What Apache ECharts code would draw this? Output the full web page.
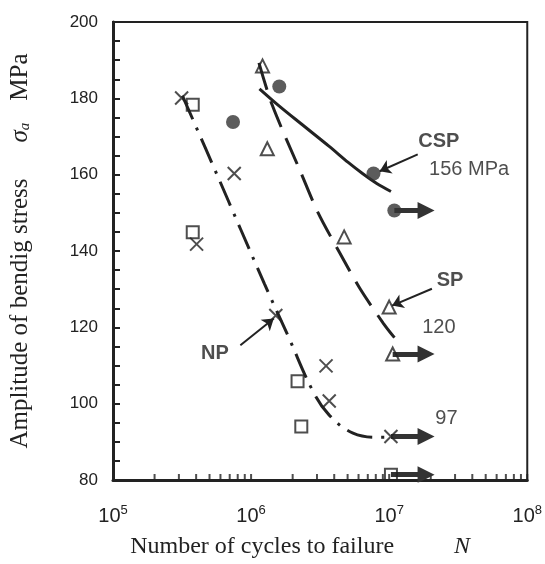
<!DOCTYPE html>
<html>
<head>
<meta charset="utf-8">
<script src="https://cdn.jsdelivr.net/npm/echarts@6/dist/echarts.min.js"></script>
<style>html,body{margin:0;padding:0;background:#fff}#c{width:545px;height:564px}</style>
</head>
<body>
<div id="c"></div>
<script>
// ---- data (N cycles, stress MPa) ----
const npCrossN = [3.14e5, 7.55e5, 4.03e5, 1.51e6, 3.49e6, 3.68e6, 1.03e7];
const npCrossS = [180.1, 160.3, 141.8, 123.1, 109.9, 100.7, 91.4];
const npSquareN = [3.78e5, 3.78e5, 2.17e6, 2.31e6, 1.03e7];
const npSquareS = [178.3, 144.9, 105.9, 94.0, 81.4];
const cspN = [7.4e5, 1.6e6, 7.7e6, 1.09e7];
const cspS = [173.8, 183.1, 160.3, 150.6];
const spN = [1.21e6, 1.31e6, 4.72e6, 1.0e7, 1.06e7];
const spS = [188.5, 166.8, 143.7, 125.3, 113.0];

// fitted curves
const cspCurveN = [1.15e6, 1.585e6, 2.29e6, 3.68e6, 5.05e6, 6.41e6, 8.13e6, 1.03e7];
const cspCurveS = [182.5, 178.1, 173.4, 167.4, 163.2, 160.3, 157.7, 155.6];
const spCurveN = [1.14e6, 1.42e6, 2.29e6, 3.04e6, 4.31e6, 6.11e6, 9.1e6, 1.12e7];
const spCurveS = [189.3, 178.3, 160.6, 150.2, 140.0, 130.3, 121.0, 116.8];
const npCurveN = [3.18e5, 5.65e5, 8.4e5, 1.25e6, 1.86e6, 2.81e6, 3.68e6, 5.47e6, 8.53e6, 1.03e7];
const npCurveS = [180.7, 160.1, 145.7, 131.4, 117.6, 103.2, 97.0, 92.3, 91.2, 91.2];

// run-out arrows
const runStartN = [1.09e7, 1.06e7, 1.03e7, 1.03e7];
const runEndN = [1.85e7, 1.85e7, 1.85e7, 1.85e7];
const runS = [150.6, 113.0, 91.4, 81.4];

// annotations
const annText = ['CSP', '156 MPa', 'SP', '120', '97', 'NP'];
const annBold = [true, false, true, false, false, true];
const annN = [2.29e7, 3.79e7, 2.76e7, 2.29e7, 2.6e7, 5.47e5];
const annS = [168.7, 161.4, 132.2, 119.9, 96.2, 113.1];
const pointerFromN = [1.61e7, 2.04e7, 8.36e5];
const pointerFromS = [165.3, 130.1, 115.3];
const pointerToN = [8.53e6, 1.05e7, 1.46e6];
const pointerToS = [160.9, 125.7, 122.3];

// axis
const yTicks = [80, 100, 120, 140, 160, 180, 200];
const xDecades = [5, 6, 7, 8];

const zip = (a, b) => a.map((v, i) => [v, b[i]]);
const tickPos = [];
for (let d = xDecades[0]; d < xDecades[xDecades.length - 1]; d++) {
  for (let k = 2; k <= 10; k++) tickPos.push([k * Math.pow(10, d), yTicks[0]]);
}

const ink = '#222';
const hollow = { color: 'rgba(0,0,0,0)', borderColor: ink, borderWidth: 2 };

const chart = echarts.init(document.getElementById('c'));
chart.setOption({
  animation: false,
  backgroundColor: '#fff',
  grid: { left: 103, right: 5, top: 22, bottom: 82, show: true, borderColor: ink, borderWidth: 2, backgroundColor: 'rgba(0,0,0,0)' },
  xAxis: {
    type: 'log', logBase: 10, min: 1e5, max: 1e8, splitNumber: 3,
    axisLine: { lineStyle: { color: ink, width: 3 } },
    axisTick: { show: false },
    splitLine: { show: false },
    axisLabel: {
      margin: 24,
      formatter: v => '{b|10}{s|' + Math.round(Math.log10(v)) + '}',
      rich: {
        b: { fontFamily: 'Liberation Sans', fontSize: 20, color: ink, lineHeight: 24 },
        s: { fontFamily: 'Liberation Sans', fontSize: 13, color: ink, verticalAlign: 'top', lineHeight: 24 }
      }
    },
    name: '{t|Number of cycles to failure}{n|N}',
    nameLocation: 'middle', nameGap: 55,
    nameTextStyle: {
      padding: [0, 40, 0, 0],
      rich: {
        t: { fontFamily: 'Liberation Serif', fontSize: 24, color: ink },
        n: { fontFamily: 'Liberation Serif', fontSize: 24, fontStyle: 'italic', color: ink, padding: [0, 0, 0, 60] }
      }
    }
  },
  yAxis: {
    type: 'value', min: 80, max: 200, interval: 20,
    axisLine: { lineStyle: { color: ink, width: 3 } },
    axisTick: { inside: true, length: 7, lineStyle: { color: ink, width: 2 } },
    minorTick: { show: true, splitNumber: 4, length: 7, lineStyle: { color: ink, width: 2 } },
    splitLine: { show: false },
    axisLabel: { margin: 15, fontFamily: 'Liberation Sans', fontSize: 17, color: ink },
    name: '{t|Amplitude of bendig stress}{i|σ}{s|a}{t|MPa}',
    nameLocation: 'middle', nameGap: 80, nameRotate: 90,
    nameTextStyle: {
      padding: [0, 0, 0, 0],
      rich: {
        t: { fontFamily: 'Liberation Serif', fontSize: 25, color: ink },
        i: { fontFamily: 'Liberation Serif', fontSize: 25, fontStyle: 'italic', color: ink, padding: [0, 0, 0, 36] },
        s: { fontFamily: 'Liberation Serif', fontSize: 15, fontStyle: 'italic', color: ink, verticalAlign: 'bottom', padding: [0, 22, 0, 0] }
      }
    }
  },
  series: [
    { type: 'scatter', data: tickPos, symbol: 'rect', symbolSize: [2, 6], symbolOffset: [0, -3], itemStyle: { color: ink }, clip: false, silent: true, z: 1 },
    { type: 'line', data: zip(cspCurveN, cspCurveS), smooth: 0.3, showSymbol: false, lineStyle: { color: ink, width: 3 }, z: 2 },
    { type: 'line', data: zip(spCurveN, spCurveS), smooth: 0.3, showSymbol: false, lineStyle: { color: ink, width: 3, type: [28, 12] }, z: 2 },
    { type: 'line', data: zip(npCurveN, npCurveS), smooth: 0.4, showSymbol: false, lineStyle: { color: ink, width: 3, type: [26, 9, 3, 9] }, z: 2 },
    { type: 'lines', coordinateSystem: 'cartesian2d', z: 3,
      data: runStartN.map((n, i) => ({ coords: [[n, runS[i]], [runEndN[i], runS[i]]] })),
      symbol: ['none', 'triangle'], symbolSize: [15, 17],
      lineStyle: { color: '#333', width: 5, opacity: 1 } },
    { type: 'lines', coordinateSystem: 'cartesian2d', z: 3,
      data: pointerFromN.map((n, i) => ({ coords: [[n, pointerFromS[i]], [pointerToN[i], pointerToS[i]]] })),
      symbol: ['none', 'arrow'], symbolSize: 11,
      lineStyle: { color: ink, width: 2, opacity: 1 } },
    { type: 'scatter', data: zip(npCrossN, npCrossS), symbol: 'path://M0,0L10,10M10,0L0,10', symbolSize: 13, itemStyle: hollow, z: 4 },
    { type: 'scatter', data: zip(npSquareN, npSquareS), symbol: 'rect', symbolSize: 12, itemStyle: hollow, z: 4 },
    { type: 'scatter', data: zip(spN, spS), symbol: 'triangle', symbolSize: 13, itemStyle: hollow, z: 4 },
    { type: 'scatter', data: zip(cspN, cspS), symbol: 'circle', symbolSize: 14, itemStyle: { color: '#333' }, z: 4 },
    { type: 'scatter', data: annN.map((n, i) => [n, annS[i], i]), symbolSize: 1, itemStyle: { color: 'rgba(0,0,0,0)' }, z: 5,
      label: {
        show: true, position: 'inside',
        formatter: p => (annBold[p.data[2]] ? '{b|' : '{r|') + annText[p.data[2]] + '}',
        rich: {
          b: { fontFamily: 'Liberation Sans', fontSize: 20, fontWeight: 'bold', color: ink },
          r: { fontFamily: 'Liberation Sans', fontSize: 20, color: ink }
        }
      } }
  ]
});
</script>
</body>
</html>
